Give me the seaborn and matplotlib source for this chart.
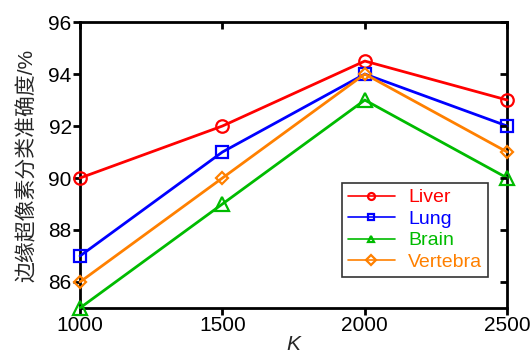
import matplotlib
matplotlib.use("Agg")
import matplotlib.pyplot as plt
from matplotlib.lines import TICKLEFT, TICKDOWN
import seaborn as sns
import pandas as pd

K = [1000, 1500, 2000, 2500]
liver = [90, 92, 94.5, 93]
lung = [87, 91, 94, 92]
brain = [85, 89, 93, 90]
vertebra = [86, 90, 94, 91]
names = ["Liver", "Lung", "Brain", "Vertebra"]
colors = ["#ff0000", "#0000ff", "#00bb00", "#ff8000"]
markers = ["o", "s", "^", "D"]
msizes = [9, 9, 10, 6]
xt = [1000, 1500, 2000, 2500]
yt = [86, 88, 90, 92, 94, 96]

sns.set_theme(style="ticks")
plt.rcParams['font.family'] = ['Liberation Sans', 'Noto Sans CJK SC', 'DejaVu Sans']

df = pd.DataFrame({"K": K * 4,
                   "val": liver + lung + brain + vertebra,
                   "organ": sum([[n] * 4 for n in names], [])})

fig = plt.figure(figsize=(5.3, 3.56), dpi=100)
ax = fig.add_axes([0.151, 0.135, 0.806, 0.803])

for n, c, m, ms in zip(names, colors, markers, msizes):
    sub = df[df.organ == n]
    sns.lineplot(data=sub, x="K", y="val", ax=ax, color=c, marker=m,
                 markersize=ms, markerfacecolor="none", markeredgecolor=c,
                 markeredgewidth=1.6, linewidth=2, label=n, clip_on=False,
                 zorder=5)

ax.set_xlim(1000, 2500)
ax.set_ylim(85, 96)
ax.set_xticks(xt)
ax.set_yticks(yt)
for s in ax.spines.values():
    s.set_linewidth(2)
    s.set_color("black")
ax.tick_params(axis="both", labelsize=15, width=2, length=5, direction="out",
               pad=1, colors="black")

ax.set_xlabel("K", fontsize=15, style="italic", labelpad=0)
ax.set_ylabel("边缘超像素分类准确度/%", fontsize=15, labelpad=8)

leg = ax.legend(loc="lower right", bbox_to_anchor=(0.978, 0.075), fontsize=14,
                frameon=True, fancybox=False, edgecolor="black",
                handlelength=2.4, borderpad=0.3, labelspacing=0.2,
                handletextpad=0.7)
leg.get_frame().set_linewidth(1.2)
leg.set_zorder(10)
for h in leg.legend_handles:
    h.set_markersize(5)
    h.set_linewidth(1.2)
for t, c in zip(leg.get_texts(), colors):
    t.set_color(c)

# inward ticks on the top and right spines, at the same tick values
ax.plot(xt, [1] * len(xt), transform=ax.get_xaxis_transform(), marker=TICKDOWN,
        markersize=5, markeredgewidth=2, color="black", linestyle="none",
        clip_on=False, zorder=6, label="_nolegend_")
ax.plot([1] * len(yt), yt, transform=ax.get_yaxis_transform(), marker=TICKLEFT,
        markersize=5, markeredgewidth=2, color="black", linestyle="none",
        clip_on=False, zorder=6, label="_nolegend_")

fig.canvas.draw()
fig.savefig("out.png", dpi=100)
